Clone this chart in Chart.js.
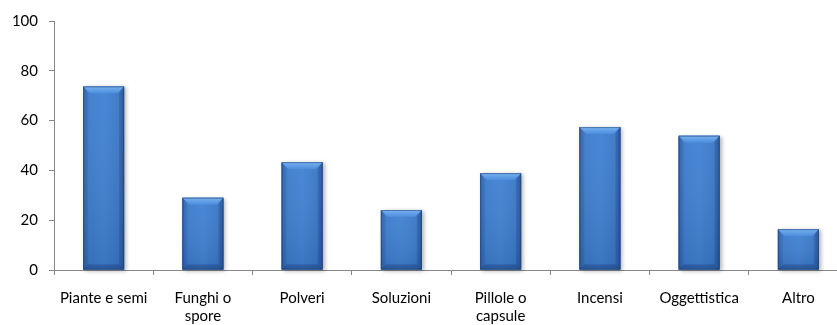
<!DOCTYPE html>
<html>
<head>
<meta charset="utf-8">
<script src="https://cdn.jsdelivr.net/npm/chart.js@4"></script>
<style>
  html, body { margin: 0; padding: 0; background: #fff; overflow: hidden; }
  #wrap { width: 850px; height: 325px; }
</style>
</head>
<body>
<div id="wrap"><canvas id="prodotti"></canvas></div>
<script>
// categorie e valori (%)
const categories = [
  'Piante e semi',
  ['Funghi o', 'spore'],
  'Polveri',
  'Soluzioni',
  ['Pillole o', 'capsule'],
  'Incensi',
  'Oggettistica',
  'Altro'
];
const values = [73.7, 29, 43.3, 24.1, 38.9, 57.4, 53.9, 16.4];
const yTicks = [0, 20, 40, 60, 80, 100];

const axisGrey = '#868686';
const fontFace = "Lato, 'Liberation Sans', sans-serif";

// barre "a rilievo" stile Excel
const bevelBars = {
  id: 'bevelBars',
  afterDatasetsDraw(chart) {
    const ctx = chart.ctx;
    chart.getDatasetMeta(0).data.forEach(bar => {
      const p = bar.getProps(['x', 'y', 'base', 'width'], true);
      const l = p.x - p.width / 2, r = p.x + p.width / 2;
      const t = p.y, b = p.base, w = r - l, h = b - t;
      const bv = Math.min(7, h / 3);
      const sv = Math.min(5, h / 3);

      ctx.save();
      // ombra
      ctx.shadowColor = 'rgba(0,0,0,0.3)';
      ctx.shadowBlur = 4;
      ctx.shadowOffsetX = 2;
      ctx.shadowOffsetY = 1;
      ctx.fillStyle = '#3a76c4';
      ctx.fillRect(l, t, w, h);
      ctx.restore();

      ctx.save();
      // corpo
      let g = ctx.createLinearGradient(l, 0, r, 0);
      g.addColorStop(0, '#3167ae');
      g.addColorStop(0.12, '#3d7bcb');
      g.addColorStop(0.5, '#4182d3');
      g.addColorStop(0.88, '#3a77c6');
      g.addColorStop(1, '#2d5d9f');
      ctx.fillStyle = g;
      ctx.fillRect(l, t, w, h);
      let gv = ctx.createLinearGradient(0, t, 0, b);
      gv.addColorStop(0, 'rgba(255,255,255,0.04)');
      gv.addColorStop(1, 'rgba(0,20,60,0.12)');
      ctx.fillStyle = gv;
      ctx.fillRect(l, t, w, h);

      // smusso superiore
      let gt = ctx.createLinearGradient(0, t, 0, t + bv);
      gt.addColorStop(0, '#78b2f0');
      gt.addColorStop(1, '#4b8cdc');
      ctx.fillStyle = gt;
      ctx.beginPath();
      ctx.moveTo(l, t);
      ctx.lineTo(r, t);
      ctx.lineTo(r - bv, t + bv);
      ctx.lineTo(l + bv, t + bv);
      ctx.closePath();
      ctx.fill();

      // lati
      ctx.fillStyle = 'rgba(20,50,100,0.2)';
      ctx.beginPath();
      ctx.moveTo(r, t);
      ctx.lineTo(r, b);
      ctx.lineTo(r - sv, b - sv);
      ctx.lineTo(r - sv, t + bv);
      ctx.closePath();
      ctx.fill();
      ctx.fillStyle = 'rgba(20,50,100,0.1)';
      ctx.beginPath();
      ctx.moveTo(l, t);
      ctx.lineTo(l + sv, t + bv);
      ctx.lineTo(l + sv, b - sv);
      ctx.lineTo(l, b);
      ctx.closePath();
      ctx.fill();

      // smusso inferiore
      ctx.fillStyle = 'rgba(15,40,90,0.3)';
      ctx.beginPath();
      ctx.moveTo(l, b);
      ctx.lineTo(r, b);
      ctx.lineTo(r - sv, b - sv);
      ctx.lineTo(l + sv, b - sv);
      ctx.closePath();
      ctx.fill();

      ctx.strokeStyle = 'rgba(30,60,110,0.5)';
      ctx.lineWidth = 1;
      ctx.strokeRect(l + 0.5, t + 0.5, w - 1, h - 1);
      ctx.restore();
    });
  }
};

const data = {
  labels: categories,
  datasets: [{
    data: values,
    backgroundColor: '#3a76c4',
    borderWidth: 0,
    barPercentage: 0.413,
    categoryPercentage: 1
  }]
};

const config = {
  type: 'bar',
  data,
  plugins: [bevelBars],
  options: {
    responsive: true,
    maintainAspectRatio: false,
    animation: false,
    layout: { padding: { top: 21, right: 2, left: 0, bottom: 0 } },
    plugins: {
      legend: { display: false },
      tooltip: { enabled: false }
    },
    scales: {
      x: {
        offset: true,
        grid: {
          offset: true,
          drawOnChartArea: false,
          drawTicks: true,
          tickLength: 5,
          color: axisGrey
        },
        border: { color: axisGrey },
        ticks: {
          color: '#000',
          padding: 15,
          maxRotation: 0,
          autoSkip: false,
          font: { family: fontFace, size: 15, lineHeight: 1.15 }
        },
        afterFit(scale) { scale.height = 55; }
      },
      y: {
        min: 0,
        max: 100,
        afterBuildTicks(scale) { scale.ticks = yTicks.map(v => ({ value: v })); },
        grid: {
          drawOnChartArea: false,
          drawTicks: true,
          tickLength: 5,
          color: axisGrey
        },
        border: { color: axisGrey },
        ticks: {
          color: '#000',
          padding: 11,
          font: { family: fontFace, size: 15 }
        },
        afterFit(scale) { scale.width = 54; }
      }
    }
  }
};

const chartProdotti = new Chart(document.getElementById('prodotti'), config);
</script>
</body>
</html>
